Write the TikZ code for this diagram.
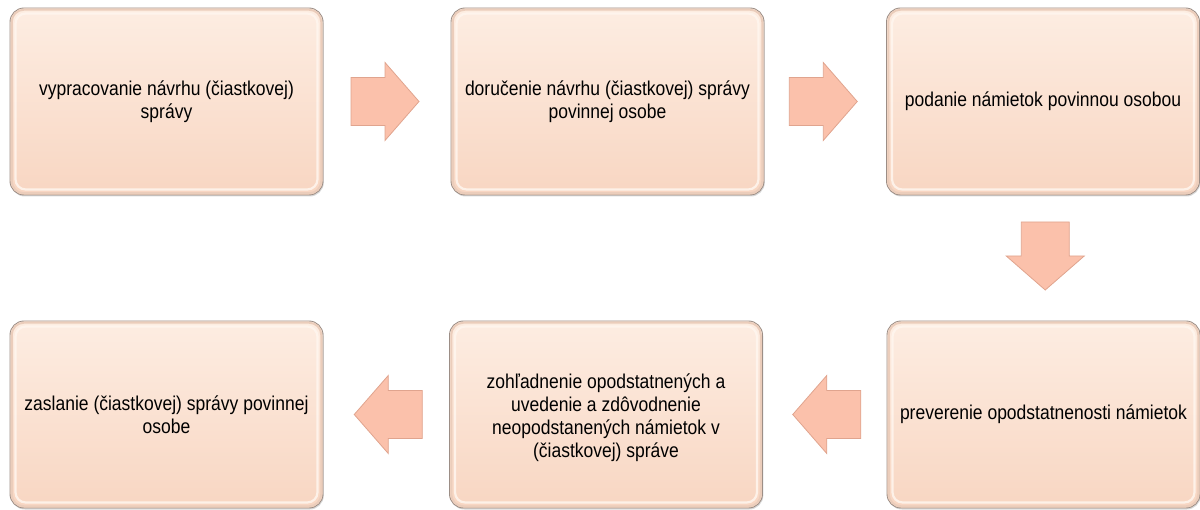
\documentclass[tikz,border=0pt]{standalone}
\usepackage{fontspec}
\newfontfamily\boxfont{Liberation Sans}[FakeStretch=0.875]
\usetikzlibrary{calc,shadows}
\definecolor{boxtop}{HTML}{FDEDE2}
\definecolor{boxbot}{HTML}{F8D6C2}
\definecolor{boxedge}{HTML}{9C8E86}
\definecolor{rim}{HTML}{EBCDBB}
\definecolor{bevel}{HTML}{FFF6EF}
\definecolor{arrfill}{HTML}{FBC1AB}
\definecolor{arredge}{HTML}{E0A48E}
\tikzset{
  stagebox/.style={draw=boxedge, line width=0.9pt, rounded corners=14pt,
    top color=boxtop, bottom color=boxbot,
    minimum width=313pt, minimum height=187pt, inner sep=0pt,
    drop shadow={shadow xshift=0.8pt, shadow yshift=-1.5pt, opacity=0.3}},
  rimline/.style={draw=rim, line width=2pt, rounded corners=12pt},
  bevelline/.style={draw=bevel, line width=2.2pt, rounded corners=10pt, opacity=0.85},
  stagetext/.style={align=center, inner sep=0pt, text=black,
    font=\boxfont\fontsize{20}{23}\selectfont},
  blockarrow/.style={fill=arrfill, draw=arredge, line width=0.8pt, line join=miter},
}
\newcommand{\blockarrowshape}{(-34,24) -- (0,24) -- (0,39) -- (34,0) -- (0,-39) -- (0,-24) -- (-34,-24) -- cycle}
\begin{document}
\begin{tikzpicture}[x=1pt,y=1pt]
\useasboundingbox (0,0) rectangle (1200,509);
% boxes
\node[stagebox] (b1) at (166.5,407.5) {};
\node[stagebox] (b2) at (607.5,407.5) {};
\node[stagebox] (b3) at (1043,407.5) {};
\node[stagebox] (b4) at (1043.5,94.5) {};
\node[stagebox] (b5) at (606,94.5) {};
\node[stagebox] (b6) at (166.5,94.5) {};
% bevels
\foreach \n in {b1,b2,b3,b4,b5,b6}{
  \draw[rimline] ([shift={(2.2,-2.2)}]\n.north west) rectangle ([shift={(-2.2,2.2)}]\n.south east);
  \draw[bevelline] ([shift={(6,-6)}]\n.north west) rectangle ([shift={(-6,6)}]\n.south east);
}
% arrow positions
\coordinate (a12) at ($(b1.east)!0.5!(b2.west)+(-2,0)$);
\coordinate (a23) at ($(b2.east)!0.5!(b3.west)+(-2,0)$);
\coordinate (a34) at ($(b3.south)!0.5!(b4.north)+(2,2)$);
\coordinate (a45) at ($(b5.east)!0.5!(b4.west)+(2,0)$);
\coordinate (a56) at ($(b6.east)!0.5!(b5.west)+(2,0)$);
\draw[blockarrow, shift={(a12)}] \blockarrowshape;
\draw[blockarrow, shift={(a23)}] \blockarrowshape;
\draw[blockarrow, shift={(a34)}, rotate=-90] \blockarrowshape;
\draw[blockarrow, shift={(a45)}, rotate=180] \blockarrowshape;
\draw[blockarrow, shift={(a56)}, rotate=180] \blockarrowshape;
% texts
\node[stagetext] (t1) at (b1.center) {vypracovanie návrhu (čiastkovej)\\správy};
\node[stagetext] (t2) at (b2.center) {doručenie návrhu (čiastkovej) správy\\povinnej osobe};
\node[stagetext] (t3) at (b3.center) {podanie námietok povinnou osobou};
\node[stagetext] (t4) at (b4.center) {preverenie opodstatnenosti námietok};
\node[stagetext] (t5) at ([yshift=-3pt]b5.center) {zohľadnenie opodstatnených a\\uvedenie a zdôvodnenie\\neopodstanených námietok v\\(čiastkovej) správe};
\node[stagetext] (t6) at (b6.center) {zaslanie (čiastkovej) správy povinnej\\osobe};
\end{tikzpicture}
\end{document}
